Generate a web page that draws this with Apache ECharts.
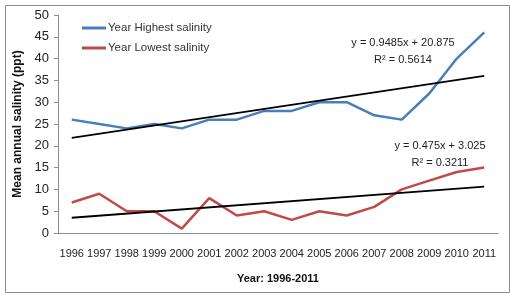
<!DOCTYPE html>
<html><head><meta charset="utf-8">
<script src="https://cdn.jsdelivr.net/npm/echarts@6/dist/echarts.min.js"></script>
<style>html,body{margin:0;padding:0;background:#fff}#c{width:511px;height:295px}</style>
</head><body><div id="c"></div>
<script>
const years = ['1996','1997','1998','1999','2000','2001','2002','2003','2004','2005','2006','2007','2008','2009','2010','2011'];
const highest = [26,25,24,25,24,26,26,28,28,30,30,27,26,32,40,46];
const lowest = [7,9,5,5,1,8,4,5,3,5,4,6,10,12,14,15];
const trendHighEnds = [21.82, 36.05];
const trendLowEnds = [3.5, 10.63];
const yTicks = {min:0, max:50, interval:5};
const labels = {
  eqHigh: 'y = 0.9485x + 20.875', r2High: 'R² = 0.5614',
  eqLow: 'y = 0.475x + 3.025', r2Low: 'R² = 0.3211',
  xName: 'Year: 1996-2011', yName: 'Mean annual salinity (ppt)'
};
function ends(e){ const a = years.map(()=>null); a[0]=e[0]; a[a.length-1]=e[1]; return a; }
const FONT = 'Liberation Sans';
const chart = echarts.init(document.getElementById('c'));
chart.setOption({
  animation:false,
  textStyle:{fontFamily:FONT},
  grid:{left:58,right:13,top:15,bottom:62},
  legend:{
    orient:'vertical', left:82, top:22, padding:0, itemGap:8, itemWidth:24, itemHeight:3,
    icon:'rect', textStyle:{fontSize:11.5,color:'#333',fontFamily:FONT,padding:[0,0,0,-3]},
    data:['Year Highest salinity','Year Lowest salinity']
  },
  xAxis:{
    type:'category', data:years, boundaryGap:true,
    axisLine:{lineStyle:{color:'#8c8c8c'}}, axisTick:{show:false},
    axisLabel:{color:'#222',fontSize:11,margin:15,interval:0},
    name:labels.xName, nameLocation:'middle', nameGap:40,
    nameTextStyle:{fontWeight:'bold',fontSize:11,color:'#111'}
  },
  yAxis:{
    type:'value', min:yTicks.min, max:yTicks.max, interval:yTicks.interval,
    axisLine:{show:true,lineStyle:{color:'#8c8c8c'}}, axisTick:{show:true,length:4,lineStyle:{color:'#8c8c8c'}},
    splitLine:{show:false},
    axisLabel:{color:'#222',fontSize:13,margin:9},
    name:labels.yName, nameLocation:'middle', nameGap:34,
    nameTextStyle:{fontWeight:'bold',fontSize:12,color:'#111'}
  },
  series:[
    {name:'Year Highest salinity',type:'line',data:highest,symbol:'none',lineStyle:{color:'#4a7ebb',width:2.5},itemStyle:{color:'#4a7ebb'},z:3},
    {name:'Year Lowest salinity',type:'line',data:lowest,symbol:'none',lineStyle:{color:'#be4b48',width:2.5},itemStyle:{color:'#be4b48'},z:3},
    {name:'trendHigh',type:'line',data:ends(trendHighEnds),connectNulls:true,symbol:'none',lineStyle:{color:'#000',width:1.8},z:4},
    {name:'trendLow',type:'line',data:ends(trendLowEnds),connectNulls:true,symbol:'none',lineStyle:{color:'#000',width:1.8},z:4}
  ],
  graphic:[
    {type:'rect',left:3,top:3,shape:{width:504,height:287},style:{fill:'none',stroke:'#8c8c8c',lineWidth:1},silent:true},
    {type:'text',x:403,y:43,style:{text:labels.eqHigh,align:'center',verticalAlign:'middle',fontSize:11,fill:'#222',fontFamily:FONT}},
    {type:'text',x:403,y:60,style:{text:labels.r2High,align:'center',verticalAlign:'middle',fontSize:11,fill:'#222',fontFamily:FONT}},
    {type:'text',x:440,y:146,style:{text:labels.eqLow,align:'center',verticalAlign:'middle',fontSize:11,fill:'#222',fontFamily:FONT}},
    {type:'text',x:440,y:163,style:{text:labels.r2Low,align:'center',verticalAlign:'middle',fontSize:11,fill:'#222',fontFamily:FONT}}
  ]
});
</script></body></html>
